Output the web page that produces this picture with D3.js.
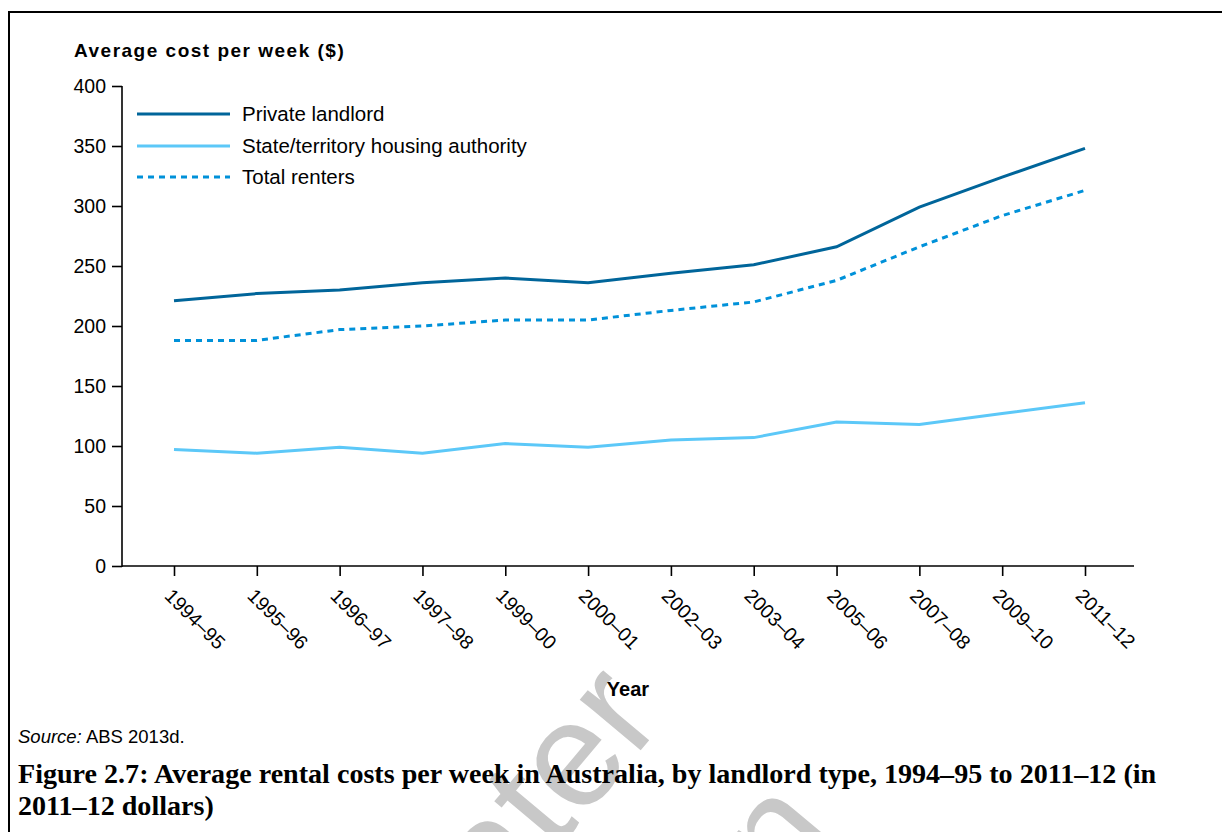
<!DOCTYPE html>
<html>
<head>
<meta charset="utf-8">
<script src="https://cdn.jsdelivr.net/npm/d3@7"></script>
<style>
  html, body { margin: 0; padding: 0; background: #fff; }
  svg { display: block; }
  text { font-family: "Liberation Sans", Arial, sans-serif; }
  text.caption { font-family: "Liberation Serif", "Times New Roman", serif; font-weight: bold; }
</style>
</head>
<body>
<svg id="chart" width="1222" height="832"></svg>
<script>
// Financial years on the x axis
const years = ["1994–95", "1995–96", "1996–97", "1997–98", "1999–00", "2000–01",
               "2002–03", "2003–04", "2005–06", "2007–08", "2009–10", "2011–12"];

// Average weekly rent ($, 2011–12 dollars)
const privateLandlord = [221, 227, 230, 236, 240, 236, 244, 251, 266, 299, 324, 348];
const stateHousing    = [97, 94, 99, 94, 102, 99, 105, 107, 120, 118, 127, 136];
const totalRenters    = [188, 188, 197, 200, 205, 205, 213, 220, 238, 266, 292, 313];

const yTicks = [0, 50, 100, 150, 200, 250, 300, 350, 400];

const seriesNames = ["Private landlord", "State/territory housing authority", "Total renters"];
const seriesColors = ["#00659a", "#5cc8f8", "#0091d9"];

const svg = d3.select("#chart");

// Page frame
svg.append("rect")
  .attr("x", 9).attr("y", 12)
  .attr("width", 1300).attr("height", 900)
  .attr("fill", "none").attr("stroke", "#000").attr("stroke-width", 2);

// Watermark behind the figure
const wm = svg.append("g").attr("fill", "#c8c8c8");
wm.append("text").attr("transform", "translate(500,918) rotate(-50)")
  .style("font-size", "150px").text("ater");
wm.append("text").attr("transform", "translate(785,898) rotate(-50)")
  .style("font-size", "150px").text("n");

const x = d3.scalePoint().domain(years).range([174, 1085]);
const y = d3.scaleLinear().domain([0, 400]).range([566, 86]);

// Y axis
const yAxis = svg.append("g").attr("transform", "translate(122,0)")
  .call(d3.axisLeft(y).tickValues(yTicks).tickSize(10).tickSizeOuter(0).tickPadding(6));
yAxis.select(".domain").remove();
yAxis.append("line").attr("x1", 0).attr("x2", 0)
  .attr("y1", y(400)).attr("y2", y(0) + 1)
  .attr("stroke", "#000").attr("stroke-width", 1.6);
yAxis.selectAll(".tick line").attr("stroke-width", 1.6);
yAxis.selectAll(".tick text")
  .style("font-size", "19.5px").style("font-family", "'Liberation Sans', Arial, sans-serif")
  .attr("fill", "#000");

// X axis
const xAxis = svg.append("g").attr("transform", `translate(0,${y(0)})`)
  .call(d3.axisBottom(x).tickSize(10).tickSizeOuter(0));
xAxis.select(".domain").remove();
xAxis.append("line").attr("x1", 122).attr("x2", 1134)
  .attr("y1", 0).attr("y2", 0)
  .attr("stroke", "#000").attr("stroke-width", 1.6);
xAxis.selectAll(".tick line").attr("stroke-width", 1.6);
xAxis.selectAll(".tick text")
  .style("font-size", "19.5px").style("font-family", "'Liberation Sans', Arial, sans-serif")
  .attr("fill", "#000")
  .attr("text-anchor", "start")
  .attr("y", 0).attr("dy", 0)
  .attr("transform", "translate(-11,31) rotate(45)");

// Axis titles
svg.append("text").attr("x", 74).attr("y", 57)
  .style("font-size", "19px").style("font-weight", "bold").style("letter-spacing", "1.5px")
  .text("Average cost per week ($)");
svg.append("text").attr("x", 628).attr("y", 696).attr("text-anchor", "middle")
  .style("font-size", "20px").style("font-weight", "bold")
  .text("Year");

// Lines
const line = d3.line().x((d, i) => x(years[i])).y(d => y(d));
const seriesData = [privateLandlord, stateHousing, totalRenters];
const dashes = [null, null, "6,5"];

svg.append("g").selectAll("path")
  .data(seriesData)
  .join("path")
  .attr("d", line)
  .attr("fill", "none")
  .attr("stroke", (d, i) => seriesColors[i])
  .attr("stroke-width", 3)
  .attr("stroke-dasharray", (d, i) => dashes[i]);

// Legend
const legend = svg.append("g");
const legendY = [114, 146, 177];
seriesNames.forEach((name, i) => {
  legend.append("line")
    .attr("x1", 137).attr("x2", 230)
    .attr("y1", legendY[i]).attr("y2", legendY[i])
    .attr("stroke", seriesColors[i]).attr("stroke-width", 3)
    .attr("stroke-dasharray", dashes[i]);
  legend.append("text")
    .attr("x", 242).attr("y", legendY[i] + 7)
    .style("font-size", "20.5px")
    .text(name);
});

// Source note
const src = svg.append("text").attr("x", 18).attr("y", 743).style("font-size", "18.5px");
src.append("tspan").style("font-style", "italic").text("Source:");
src.append("tspan").text(" ABS 2013d.");

// Figure caption (first line fitted to the text column width)
const cap1 = svg.append("text").attr("class", "caption")
  .attr("x", 18).attr("y", 783).style("font-size", "20px")
  .text("Figure 2.7: Average rental costs per week in Australia, by landlord type, 1994–95 to 2011–12 (in");
const capSize = 20 * 1139 / cap1.node().getComputedTextLength();
cap1.style("font-size", capSize + "px");
svg.append("text").attr("class", "caption")
  .attr("x", 18).attr("y", 815).style("font-size", capSize + "px")
  .text("2011–12 dollars)");
</script>
</body>
</html>
